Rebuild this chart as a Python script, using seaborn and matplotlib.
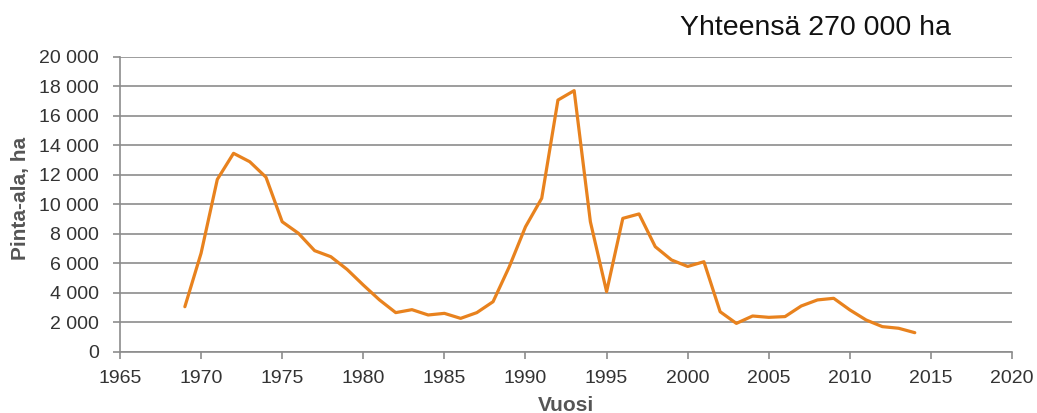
import matplotlib.pyplot as plt
import matplotlib.ticker as mticker
import pandas as pd
import seaborn as sns

# Vuodet ja pinta-alat (ha)
vuodet = list(range(1969, 2015))
pinta_ala = [3070, 6700, 11700, 13470, 12900, 11850, 8830, 8050, 6870, 6460,
             5600, 4540, 3530, 2670, 2870, 2510, 2620, 2280, 2670, 3410,
             5780, 8490, 10420, 17080, 17720, 8830, 4090, 9060, 9360, 7140,
             6240, 5800, 6120, 2730, 1940, 2440, 2350, 2400, 3120, 3530,
             3640, 2850, 2170, 1720, 1610, 1310]

otsikko = 'Yhteensä 270 000 ha'


def create_line_plot(data):
    sns.set_style('white')
    plt.rcParams['font.family'] = ['Liberation Sans', 'DejaVu Sans']
    fig = plt.figure(figsize=(10.37, 4.13), dpi=100)
    ax = fig.add_axes([0.1157, 0.1477, 0.8603, 0.7143])
    sns.lineplot(data=data, x='Vuosi', y='Pinta-ala', ax=ax,
                 color='#E8821E', linewidth=2.3)
    ax.set_xlim(1965, 2020)
    ax.set_ylim(0, 20000)
    ax.set_xticks(range(1965, 2021, 5))
    ax.set_yticks(range(0, 20001, 2000))
    ax.yaxis.set_major_formatter(
        mticker.FuncFormatter(lambda v, p: f'{int(v):,}'.replace(',', ' ')))
    ax.grid(axis='y', color='#8c8c8c', linewidth=1.2)
    ax.set_axisbelow(True)
    for side in ['top', 'right']:
        ax.spines[side].set_visible(False)
    for side in ['left', 'bottom']:
        ax.spines[side].set_color('#8c8c8c')
        ax.spines[side].set_linewidth(1.2)
    ax.tick_params(axis='both', direction='out', length=5, width=1.2,
                   color='#8c8c8c', labelsize=14, labelcolor='#333333',
                   left=True, bottom=True)
    ax.tick_params(axis='y', pad=10)
    ax.tick_params(axis='x', pad=8)
    ax.set_xlabel('Vuosi', fontsize=15, fontweight='bold', color='#555555',
                  va='top')
    ax.xaxis.set_label_coords(0.5, -0.148)
    ax.set_ylabel('Pinta-ala, ha', fontsize=15, fontweight='bold',
                  color='#555555', va='center')
    ax.yaxis.set_label_coords(-0.112, 0.52)
    fig.text(0.786, 0.932, otsikko, fontsize=20.5, ha='center', va='center',
             color='#111111')
    fig.savefig('out.png', dpi=100)


if __name__ == '__main__':
    df = pd.DataFrame({'Vuosi': vuodet, 'Pinta-ala': pinta_ala})
    create_line_plot(df)
